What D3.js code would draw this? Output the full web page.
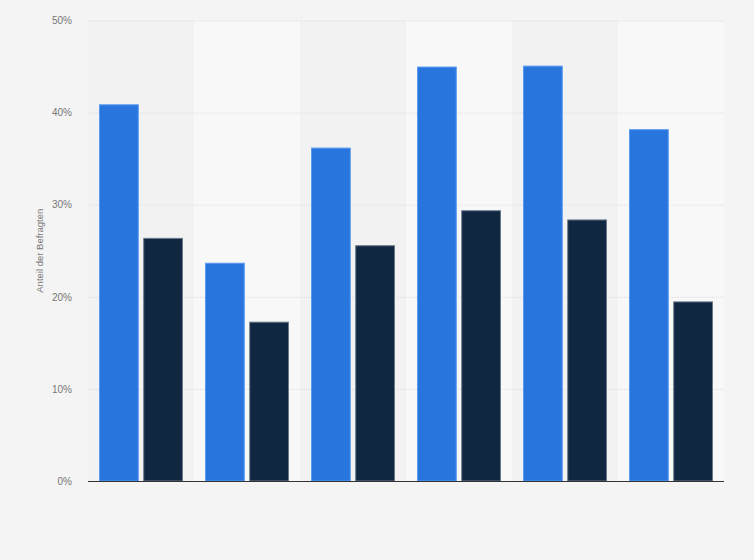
<!DOCTYPE html>
<html lang="de">
<head>
<meta charset="UTF-8">
<title>Anteil der Befragten</title>
<script src="https://cdn.jsdelivr.net/npm/d3@7/dist/d3.min.js"></script>
<style>
    body { margin: 0; background: #f4f4f4; }
    svg { display: block; font-family: "Liberation Sans", Arial, sans-serif; }
    .grid line { stroke: #dcdcdc; stroke-dasharray: 1,1; }
    .yaxis text { fill: #777; font-size: 10px; }
</style>
</head>
<body>
<svg id="main" width="754" height="560"></svg>
<script>
    // data
    const groups = ['1', '2', '3', '4', '5', '6'];
    const seriesA = [40.9, 23.7, 36.2, 45.0, 45.1, 38.2];
    const seriesB = [26.4, 17.3, 25.6, 29.4, 28.4, 19.5];
    const yTicks = [0, 10, 20, 30, 40, 50];

    const svg = d3.select('svg#main');
    const margin = {left: 88, right: 30, top: 20.5, bottom: 79};
    const W = 754, H = 560;

    const x = d3.scaleBand().domain(groups).range([margin.left, W - margin.right]);
    const y = d3.scaleLinear().domain([0, 50]).range([H - margin.bottom, margin.top]);
    const inner = d3.scaleBand().domain(['a', 'b']).range([11, x.bandwidth() - 11]).paddingInner(0.1);

    // alternating column bands
    svg.append('g').selectAll('rect').data(groups).join('rect')
        .attr('x', d => x(d))
        .attr('y', y(50))
        .attr('width', x.bandwidth())
        .attr('height', y(0) - y(50))
        .attr('fill', (d, i) => i % 2 ? '#f8f8f8' : '#f2f2f2');

    // gridlines
    svg.append('g').attr('class', 'grid').selectAll('line').data(yTicks.slice(1)).join('line')
        .attr('x1', margin.left).attr('x2', W - margin.right)
        .attr('y1', d => y(d) + 0.5).attr('y2', d => y(d) + 0.5);

    // bars
    const rows = groups.map((g, i) => ({g: g, a: seriesA[i], b: seriesB[i]}));
    const bars = svg.append('g');
    bars.selectAll('rect.a').data(rows).join('rect').attr('class', 'a')
        .attr('x', d => x(d.g) + inner('a') + 0.5)
        .attr('y', d => y(d.a) + 0.5)
        .attr('width', inner.bandwidth() - 1)
        .attr('height', d => y(0) - y(d.a) - 0.5)
        .attr('fill', '#2876dd')
        .attr('stroke', '#5a9af0').attr('stroke-width', 1);
    bars.selectAll('rect.b').data(rows).join('rect').attr('class', 'b')
        .attr('x', d => x(d.g) + inner('b') + 0.5)
        .attr('y', d => y(d.b) + 0.5)
        .attr('width', inner.bandwidth() - 1)
        .attr('height', d => y(0) - y(d.b) - 0.5)
        .attr('fill', '#0f2741')
        .attr('stroke', '#6a7a8c').attr('stroke-width', 1);

    // y axis labels
    const yAxis = svg.append('g').attr('class', 'yaxis')
        .attr('transform', 'translate(' + (margin.left - 16) + ',0)')
        .call(d3.axisLeft(y).tickValues(yTicks).tickFormat(d => d + '%').tickSize(0));
    yAxis.select('.domain').remove();
    yAxis.selectAll('text').attr('x', 0).attr('dy', '0.32em');

    // baseline
    svg.append('line')
        .attr('x1', margin.left).attr('x2', W - margin.right)
        .attr('y1', y(0) + 0.5).attr('y2', y(0) + 0.5)
        .attr('stroke', '#333').attr('stroke-width', 1.2);

    // axis title
    svg.append('text')
        .attr('transform', 'translate(43,' + ((y(0) + y(50)) / 2) + ') rotate(-90)')
        .attr('text-anchor', 'middle')
        .attr('fill', '#777')
        .attr('font-size', '9.5px')
        .text('Anteil der Befragten');
</script>
</body>
</html>
